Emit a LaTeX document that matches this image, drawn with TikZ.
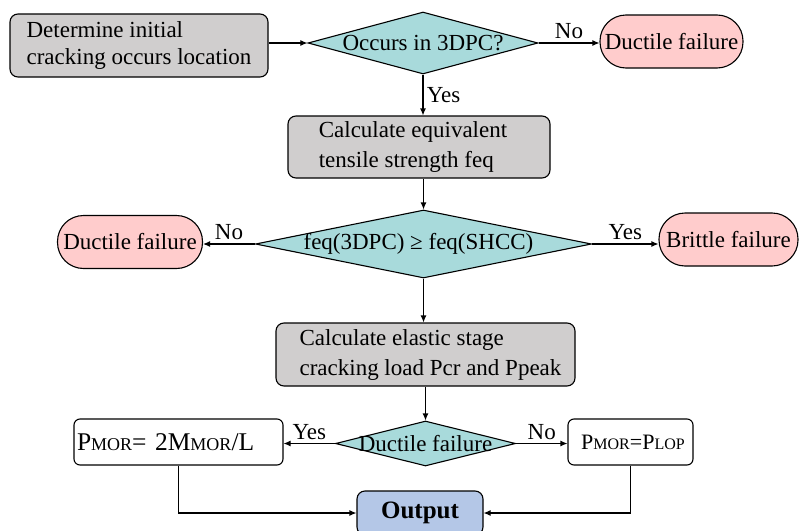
\documentclass[tikz,border=0pt]{standalone}
\usepackage{fontspec}
\setmainfont{Liberation Serif}
\usetikzlibrary{shapes.geometric,arrows.meta}

\definecolor{procgray}{HTML}{D0CECE}
\definecolor{diacyan}{HTML}{A8DADB}
\definecolor{failpink}{HTML}{FFCCCC}
\definecolor{outblue}{HTML}{B4C7E7}

\newcommand{\subtxt}[1]{{\fontsize{16}{16}\selectfont #1}}
\newcommand{\bigsubtxt}[1]{{\fontsize{18}{18}\selectfont #1}}

\begin{document}
\begin{tikzpicture}[x=1pt, y=-1pt, line width=1.1pt,
    font=\fontsize{23}{30}\selectfont, >={Latex[length=7pt,width=6pt]},
    procbox/.style={draw, fill=procgray, rounded corners=8pt, align=left, inner sep=0pt},
    decision/.style={draw, diamond, fill=diacyan, inner sep=0pt},
    termbox/.style={draw, fill=failpink, rounded corners=26pt, inner sep=0pt, minimum height=53pt},
    resultbox/.style={draw, fill=white, rounded corners=6pt, inner ysep=0pt, minimum height=46pt},
    outbox/.style={draw, fill=outblue, rounded corners=8pt, inner sep=0pt,
      font=\fontsize{25}{28}\selectfont\bfseries}]

      \useasboundingbox (0,0) rectangle (800,530);
      \clip (0,0) rectangle (800,530);

      \begin{scope}
        \node[procbox, minimum width=258pt, minimum height=63pt, font=\fontsize{23}{27}\selectfont] (1) at (139,45.5)
          {Determine initial\\cracking occurs location};
        \node[decision, minimum width=230pt, minimum height=62pt] (2) at (423,43)
          {\makebox[0pt]{Occurs in 3DPC?}};
        \node[termbox, minimum width=143pt] (3) at (671.5,41.5) {Ductile failure};
        \node[procbox, minimum width=262pt, minimum height=62pt] (4) at (419,147)
          {\hspace*{-12pt}Calculate equivalent\\\hspace*{-12pt}tensile strength feq};
        \node[decision, minimum width=336pt, minimum height=68pt] (5) at (423.5,244)
          {\makebox[0pt]{feq(3DPC) ≥ feq(SHCC)\hspace{10pt}}};
        \node[termbox, minimum width=145pt] (6) at (130,242) {Ductile failure};
        \node[termbox, minimum width=139pt] (7) at (728.5,239.5) {Brittle failure};
        \node[procbox, minimum width=299pt, minimum height=63pt] (8) at (425.5,354.5)
          {\hspace*{10pt}Calculate elastic stage\\\hspace*{10pt}cracking load Pcr and Ppeak};
        \node[decision, minimum width=180pt, minimum height=45pt] (9) at (425.5,443.5)
          {\makebox[0pt]{Ductile failure}};
        \node[resultbox, text width=203pt, inner xsep=3pt, align=left,
          font=\fontsize{25.5}{28}\selectfont] (10) at (178.5,442)
          {P\bigsubtxt{MOR}= 2M\bigsubtxt{MOR}/L};
        \node[resultbox, minimum width=125pt, inner xsep=0pt,
          font=\fontsize{22}{26}\selectfont] (11) at (630.5,442)
          {\hspace*{5pt}P\subtxt{MOR}=P\subtxt{LOP}};
        \node[outbox, minimum width=126pt, minimum height=44pt] (12) at (420,513) {Output};
      \end{scope}

      \begin{scope}[every edge/.style={draw, ->}]
        \path (1.east |- 2) edge (2);
        \path (2) edge node[above] {No} (2 -| 3.west);
        \path (2) edge node[right] {Yes} (2 |- 4.north);
        \path (4.south -| 5) edge (5);
        \path (5) edge node[above] {No} (5 -| 6.east);
        \path (5) edge node[above] {Yes} (5 -| 7.west);
        \path (5) edge (5 |- 8.north);
        \path (8.south -| 9) edge (9);
        \path (9) edge node[above] {Yes} (9 -| 10.east);
        \path (9) edge node[above] {No} (9 -| 11.west);
        \path (10) edge[to path={|- (\tikztotarget)}] (12);
        \path (11) edge[to path={|- (\tikztotarget)}] (12);
      \end{scope}

    \end{tikzpicture}
\end{document}
